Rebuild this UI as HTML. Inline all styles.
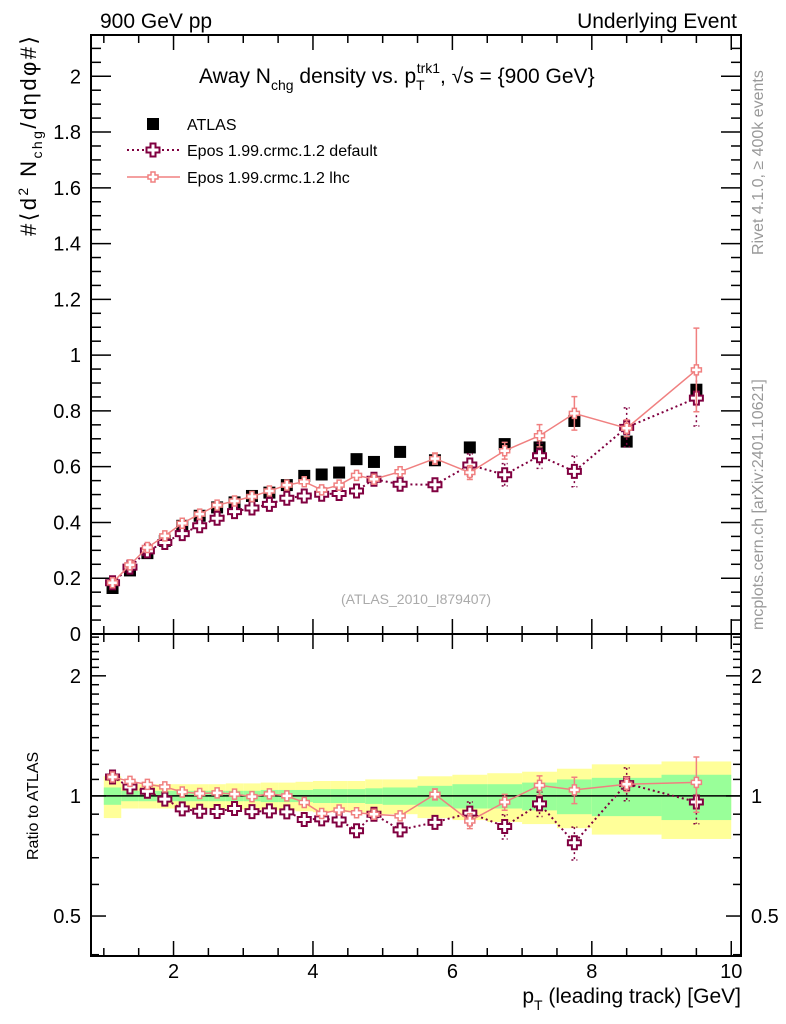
<!DOCTYPE html>
<html><head><meta charset="utf-8"><style>
html,body{margin:0;padding:0;background:#fff;}
svg{display:block;font-family:"Liberation Sans",sans-serif;}
</style></head><body>
<svg id="chart" width="786" height="1024" viewBox="0 0 786 1024" xmlns="http://www.w3.org/2000/svg">
<text x="100" y="28" font-size="21">900 GeV pp</text>
<text x="737" y="28" font-size="21" text-anchor="end">Underlying Event</text>
<text x="199" y="83" font-size="21">Away N<tspan font-size="14" dy="7">chg</tspan><tspan dy="-7"> density vs. p</tspan><tspan font-size="14" dy="7">T</tspan><tspan font-size="14" dy="-17" dx="-8">trk1</tspan><tspan dy="10">, √s = {900 GeV}</tspan></text>
<text transform="translate(763,255) rotate(-90)" font-size="16" fill="#999">Rivet 4.1.0, ≥ 400k events</text>
<text transform="translate(763,630) rotate(-90)" font-size="16" fill="#999">mcplots.cern.ch [arXiv:2401.10621]</text>
<text x="416" y="604" font-size="14" fill="#aaa" text-anchor="middle">(ATLAS_2010_I879407)</text>
<text transform="translate(36,236) rotate(-90)" font-size="22" textLength="200" lengthAdjust="spacing">#⟨d<tspan font-size="14" dy="-8">2</tspan><tspan dy="8"> N</tspan><tspan font-size="14" dy="6">chg</tspan><tspan dy="-6">/dηdφ#⟩</tspan></text>
<text transform="translate(38,860) rotate(-90)" font-size="16">Ratio to ATLAS</text>
<text x="741" y="1003" font-size="21" text-anchor="end">p<tspan font-size="14" dy="7">T</tspan><tspan dy="-7"> (leading track) [GeV]</tspan></text>
<g id="legend">
<rect x="147" y="118" width="12" height="12" fill="#000"/>
<text x="187" y="130" font-size="16">ATLAS</text>
<line x1="127" y1="150" x2="180" y2="150" stroke="#800040" stroke-width="2" stroke-dasharray="2,3"/>
<path d="M-2.5,-6.5h5v4h4v5h-4v4h-5v-4h-4v-5h4z" transform="translate(153,150)" fill="#fff" stroke="#800040" stroke-width="2"/>
<text x="187" y="156" font-size="16">Epos 1.99.crmc.1.2 default</text>
<line x1="127" y1="177" x2="180" y2="177" stroke="#f08080" stroke-width="1.5"/>
<path d="M-2,-5h4v3h3v4h-3v3h-4v-3h-3v-4h3z" transform="translate(153,177)" fill="#fff" stroke="#f08080" stroke-width="1.5"/>
<text x="187" y="183" font-size="16">Epos 1.99.crmc.1.2 lhc</text>
</g>
<g id="plot"></g>
</svg>
<script>
const binEdges=[1,1.25,1.5,1.75,2,2.25,2.5,2.75,3,3.25,3.5,3.75,4,4.25,4.5,4.75,5,5.5,6,6.5,7,7.5,8,9,10];
const atlasVals=[0.165,0.228,0.29,0.334,0.388,0.424,0.454,0.472,0.495,0.507,0.534,0.567,0.572,0.579,0.627,0.617,0.653,0.623,0.669,0.681,0.669,0.764,0.69,0.876];
const atlasStat=[0.05,0.03,0.03,0.03,0.03,0.03,0.03,0.03,0.03,0.035,0.035,0.035,0.04,0.04,0.04,0.045,0.05,0.06,0.07,0.07,0.08,0.1,0.11,0.13];
const atlasTot=[0.12,0.07,0.07,0.07,0.07,0.07,0.07,0.075,0.075,0.08,0.08,0.085,0.09,0.09,0.09,0.1,0.1,0.12,0.13,0.14,0.15,0.17,0.2,0.22];
const lhcVals=[0.184,0.248,0.31,0.352,0.397,0.43,0.462,0.477,0.493,0.513,0.534,0.546,0.517,0.534,0.569,0.555,0.582,0.629,0.579,0.657,0.711,0.791,0.738,0.947];
const lhcErr=[0.004,0.004,0.005,0.005,0.005,0.005,0.006,0.006,0.006,0.007,0.007,0.008,0.008,0.009,0.009,0.01,0.01,0.02,0.025,0.03,0.04,0.06,0.03,0.15];
const defVals=[0.184,0.24,0.298,0.328,0.36,0.388,0.415,0.439,0.452,0.465,0.487,0.495,0.501,0.504,0.513,0.555,0.537,0.535,0.606,0.571,0.639,0.583,0.741,0.846];
const defErr=[0.004,0.004,0.005,0.005,0.005,0.005,0.006,0.006,0.006,0.007,0.007,0.008,0.008,0.009,0.009,0.01,0.01,0.02,0.04,0.04,0.045,0.055,0.07,0.1];
const mainYTicks=["0","0.2","0.4","0.6","0.8","1","1.2","1.4","1.6","1.8","2"];
const xTickLabels=["2","4","6","8","10"];
const ratioTickLabels=["0.5","1","2"];

const NS="http://www.w3.org/2000/svg";
const L=91,R=741,T=35,MB=634,RB=956;
const X0=0.816,X1=10.14;
const sx=x=>L+(x-X0)/(X1-X0)*(R-L);
const sy=v=>MB-(v/2.148)*(MB-T);
const RL0=Math.log2(0.397),RL1=Math.log2(2.546);
const sr=r=>RB-(Math.log2(r)-RL0)/(RL1-RL0)*(RB-MB);
const g=document.getElementById('plot');
function mk(tag,at,parent){const e=document.createElementNS(NS,tag);for(const k in at)e.setAttribute(k,at[k]);(parent||g).appendChild(e);return e;}
const centers=atlasVals.map((_,i)=>(binEdges[i]+binEdges[i+1])/2);

const bands=mk('g',{});


atlasVals.forEach((v,i)=>{
  const x1=sx(binEdges[i]),x2=sx(binEdges[i+1]);
  const y=mk('rect',{x:x1,width:x2-x1,y:sr(1+atlasTot[i]),height:sr(1-atlasTot[i])-sr(1+atlasTot[i]),fill:'#ffff99'},bands);
  
  
  const gr=mk('rect',{x:x1,width:x2-x1,y:sr(1+atlasStat[i]),height:sr(1-atlasStat[i])-sr(1+atlasStat[i]),fill:'#99ff99'},bands);
  
  
});
const one=mk('line',{x1:L,x2:R,y1:sr(1),y2:sr(1),stroke:'#000','stroke-width':1.5});



const f1=mk('rect',{x:L,y:T,width:R-L,height:MB-T,fill:'none',stroke:'#000','stroke-width':2});


const f2=mk('rect',{x:L,y:MB,width:R-L,height:RB-MB,fill:'none',stroke:'#000','stroke-width':2});



const ax=mk('g',{stroke:'#000','stroke-width':1.5});


for(let v=0;v<=2.1401;v+=0.05){const y=sy(v);const maj=Math.abs(v/0.2-Math.round(v/0.2))<1e-6;const len=maj?20:10;
  mk('line',{x1:L,x2:L+len,y1:y,y2:y},ax);mk('line',{x1:R,x2:R-len,y1:y,y2:y},ax);}
mainYTicks.forEach(t=>{const el=mk('text',{x:L-10,y:sy(+t)+7,'font-size':20,'text-anchor':'end'});el.textContent=t;
  
  });
for(let x=1;x<=10.01;x+=0.5){const px=sx(x);const maj=Math.abs(x%2)<1e-6;const len=maj?15:8;
  [MB,RB].forEach(b=>{mk('line',{x1:px,x2:px,y1:b,y2:b-len},ax);});
  mk('line',{x1:px,x2:px,y1:T,y2:T+len},ax);mk('line',{x1:px,x2:px,y1:MB,y2:MB+len},ax);}
xTickLabels.forEach(t=>{const el=mk('text',{x:sx(+t),y:RB+22,'font-size':20,'text-anchor':'middle'});el.textContent=t;
  
  });
for(let k=4;k<=25;k++){const r=k/10;const maj=(k===5||k===10||k===20);const len=maj?15:8;const y=sr(r);
  mk('line',{x1:L,x2:L+len,y1:y,y2:y},ax);mk('line',{x1:R,x2:R-len,y1:y,y2:y},ax);}
ratioTickLabels.forEach(t=>{const y=sr(+t)+7;
  const a=mk('text',{x:L-10,y:y,'font-size':20,'text-anchor':'end'});a.textContent=t;
  
  
  const b=mk('text',{x:R+10,y:y,'font-size':20});b.textContent=t;
  
  });

const crossBig="M-2.5,-6.5h5v4h4v5h-4v4h-5v-4h-4v-5h4z";
const crossSm="M-2,-5h4v3h3v4h-3v3h-4v-3h-3v-4h3z";
function series(vals,errs,color,dash,path,sw,name,scale){
  const grp=mk('g',{});
  
  
  const pts=vals.map((v,i)=>[sx(centers[i]),scale(v,i)]);
  const pl=mk('polyline',{points:pts.map(p=>p.join(',')).join(' '),fill:'none',stroke:color,'stroke-width':sw,'stroke-dasharray':dash},grp);
  
  
  vals.forEach((v,i)=>{
    const y1=scale(v+errs[i],i),y2=scale(Math.max(v-errs[i],0.01),i);
    if(Math.abs(y2-y1)>8){const e=mk('path',{d:`M${pts[i][0]-3},${y1}h6M${pts[i][0]},${y1}V${y2}M${pts[i][0]-3},${y2}h6`,stroke:color,'stroke-width':1.5,fill:'none','stroke-dasharray':dash},grp);
      
      }
    const m=mk('path',{d:path,transform:`translate(${pts[i][0]},${pts[i][1]})`,fill:'#fff',stroke:color,'stroke-width':sw},grp);
    
    
  });
}
const ag=mk('g',{});


atlasVals.forEach((v,i)=>{const r=mk('rect',{x:sx(centers[i])-6,y:sy(v)-6,width:12,height:12,fill:'#000'},ag);
  
  });
series(defVals,defErr,'#800040','2,3',crossBig,2,'epos-default',v=>sy(v));
series(lhcVals,lhcErr,'#f08080','none',crossSm,1.5,'epos-lhc',v=>sy(v));
const defR=defVals.map((v,i)=>v/atlasVals[i]),defRE=defErr.map((e,i)=>e/atlasVals[i]);
const lhcR=lhcVals.map((v,i)=>v/atlasVals[i]),lhcRE=lhcErr.map((e,i)=>e/atlasVals[i]);
series(defR,defRE,'#800040','2,3',crossBig,2,'ratio-epos-default',v=>sr(v));
series(lhcR,lhcRE,'#f08080','none',crossSm,1.5,'ratio-epos-lhc',v=>sr(v));
</script>
</body></html>
